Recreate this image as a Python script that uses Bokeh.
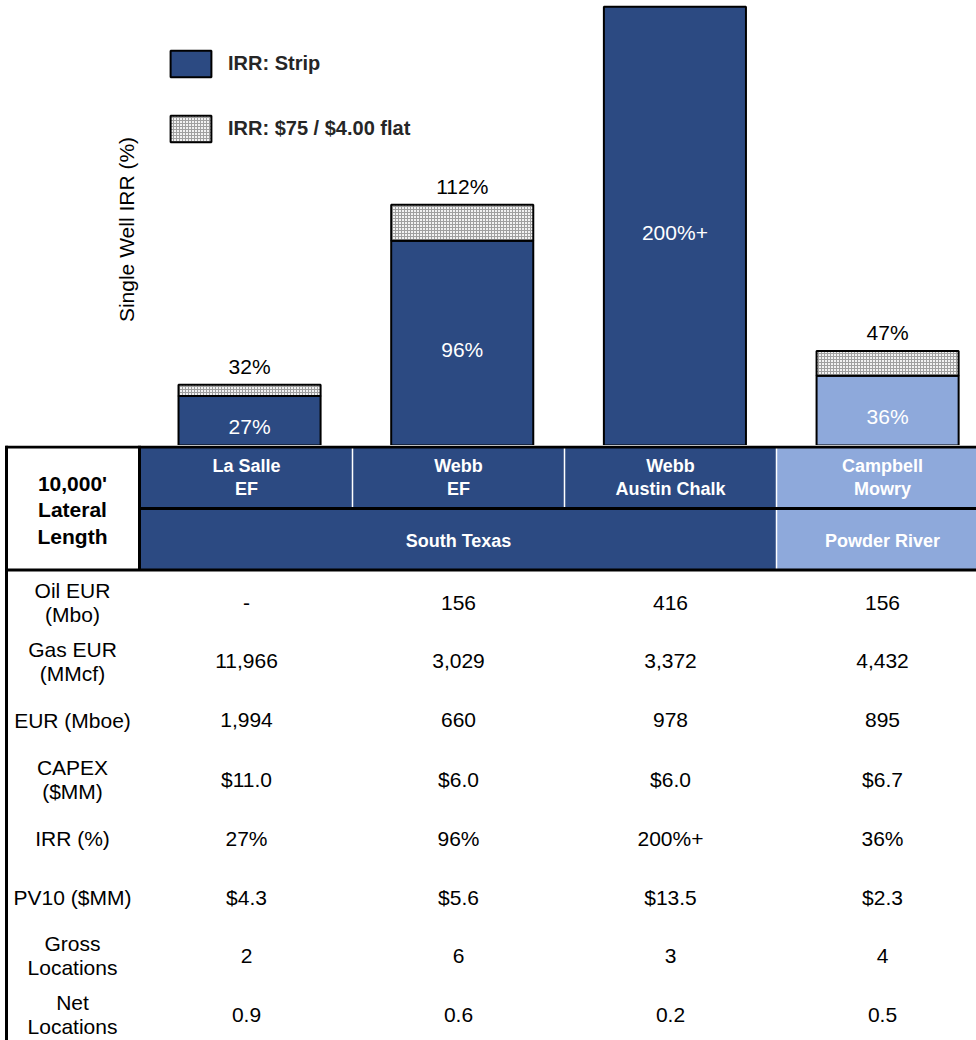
import math
from bokeh.plotting import figure
from bokeh.models import Range1d, Label, Legend, LegendItem, ColumnDataSource
from bokeh.layouts import column
from bokeh.embed import file_html
from bokeh.resources import INLINE
from bokeh.core.properties import value

# ---------------- data ----------------
plays = ["La Salle EF", "Webb EF", "Webb Austin Chalk", "Campbell Mowry"]
irr_strip = [27, 96, 200, 36]
irr_flat = [32, 112, None, 47]
strip_labels = ["27%", "96%", "200%+", "36%"]
flat_labels = ["32%", "112%", "", "47%"]
header_line1 = ["La Salle", "Webb", "Webb", "Campbell"]
header_line2 = ["EF", "EF", "Austin Chalk", "Mowry"]
basins = ["South Texas", "Powder River"]
basin_span = [3, 1]
row_labels = ["Oil EUR\n(Mbo)", "Gas EUR\n(MMcf)", "EUR (Mboe)", "CAPEX\n($MM)",
              "IRR (%)", "PV10 ($MM)", "Gross\nLocations", "Net\nLocations"]
oil_eur = ["-", "156", "416", "156"]
gas_eur = ["11,966", "3,029", "3,372", "4,432"]
eur_mboe = ["1,994", "660", "978", "895"]
capex = ["$11.0", "$6.0", "$6.0", "$6.7"]
irr_row = ["27%", "96%", "200%+", "36%"]
pv10 = ["$4.3", "$5.6", "$13.5", "$2.3"]
gross_loc = ["2", "6", "3", "4"]
net_loc = ["0.9", "0.6", "0.2", "0.5"]
table_rows = [oil_eur, gas_eur, eur_mboe, capex, irr_row, pv10, gross_loc, net_loc]

# ---------------- style ----------------
DARK = "#2C4A82"
LIGHT = "#8EA9DB"
FONT = "Liberation Sans"
basin_colors = [DARK, LIGHT]
play_colors = []
for b, n in enumerate(basin_span):
    play_colors += [basin_colors[b]] * n

# ---------------- bar chart ----------------
Y0 = 5
p1 = figure(width=976, height=445, x_range=Range1d(-1.171, 3.418), y_range=Range1d(Y0, 202.8),
            output_backend="svg", toolbar_location=None, x_axis_type=None, y_axis_type=None,
            min_border=0, outline_line_color=None)
p1.grid.visible = False

idx = list(range(len(plays)))
src_strip = ColumnDataSource(dict(x=idx, top=irr_strip, color=play_colors, lab=strip_labels,
                                  ly=[(Y0 + v) / 2 for v in irr_strip]))
r_strip = p1.vbar(x="x", top="top", bottom=0, width=0.668, fill_color="color",
                  line_color="black", line_width=2, source=src_strip)

fi = [i for i, v in enumerate(irr_flat) if v is not None]
src_flat = ColumnDataSource(dict(x=fi, bottom=[irr_strip[i] for i in fi], top=[irr_flat[i] for i in fi],
                                 lab=[flat_labels[i] for i in fi]))
r_flat = p1.vbar(x="x", top="top", bottom="bottom", width=0.668, fill_color="#f2f2f2",
                 hatch_pattern="cross", hatch_color="#a0a0a0", hatch_scale=3, hatch_weight=1,
                 line_color="black", line_width=2, source=src_flat)

p1.text(x="x", y="top", text="lab", source=src_flat, text_align="center", text_baseline="bottom",
        y_offset=-7, text_font=value(FONT), text_font_size="21px", text_color="black")
p1.text(x="x", y="ly", text="lab", source=src_strip, text_align="center", text_baseline="middle",
        y_offset=6, text_font=value(FONT), text_font_size="21px", text_color="white")

legend = Legend(items=[LegendItem(label="IRR: Strip", renderers=[r_strip], index=0),
                       LegendItem(label="IRR: $75 / $4.00 flat", renderers=[r_flat], index=0)],
                location=(165, 300), orientation="vertical", padding=0, margin=0, spacing=32,
                glyph_width=51, glyph_height=33, label_height=33, label_standoff=12,
                border_line_color=None, background_fill_alpha=0,
                label_text_font=FONT, label_text_font_size="20px", label_text_font_style="bold",
                label_text_color="#262626")
p1.add_layout(legend)

p1.add_layout(Label(x=126, y=216, x_units="screen", y_units="screen", text="Single Well IRR (%)",
                    angle=math.pi / 2, text_align="center", text_baseline="middle",
                    text_font=FONT, text_font_size="21px", text_color="black"))

# ---------------- table ----------------
p2 = figure(width=976, height=595, x_range=Range1d(0, 976), y_range=Range1d(595, 0),
            output_backend="svg", toolbar_location=None, x_axis_type=None, y_axis_type=None,
            min_border=0, outline_line_color=None)
p2.grid.visible = False

COL_L, COL_W = 140, 212
col_left = [COL_L + COL_W * i for i in idx]
col_ctr = [l + COL_W / 2 for l in col_left]

# header row 1 (plays)
p2.quad(left=col_left, right=[l + COL_W for l in col_left], top=1, bottom=63,
        fill_color=play_colors, line_color=None)
# header row 2 (basins)
b_left, b_right, b_ctr = [], [], []
start = 0
for n in basin_span:
    l = col_left[start]
    r = col_left[start + n - 1] + COL_W
    b_left.append(l); b_right.append(r); b_ctr.append((l + r) / 2)
    start += n
p2.quad(left=b_left, right=b_right, top=63, bottom=124, fill_color=basin_colors, line_color=None)

# white separators
p2.segment(x0=col_left[1:], y0=1, x1=col_left[1:], y1=63, line_color="white", line_width=1.5)
p2.segment(x0=b_left[1:], y0=63, x1=b_left[1:], y1=124, line_color="white", line_width=1.5)

# black rules
p2.segment(x0=[5, 140, 5, 6, 139], y0=[1.5, 63, 124.5, 0, 0], x1=[976, 976, 976, 6, 139],
           y1=[1.5, 63, 124.5, 595, 125], line_color="black", line_width=3)

hdr_txt = [a + "\n" + b for a, b in zip(header_line1, header_line2)]
p2.text(x=col_ctr, y=32, text=hdr_txt, text_align="center", text_baseline="middle",
        text_font=value(FONT), text_font_size="18px", text_font_style="bold",
        text_color="white", text_line_height=1.12)
p2.text(x=b_ctr, y=95, text=basins, text_align="center", text_baseline="middle",
        text_font=value(FONT), text_font_size="18px", text_font_style="bold",
        text_color="white")
p2.text(x=[72], y=[64.5], text=["10,000'\nLateral\nLength"], text_align="center",
        text_baseline="middle", text_font=value(FONT), text_font_size="21px",
        text_font_style="bold", text_color="black", text_line_height=1.15)

ROW0, ROW_H = 157, 58.9
row_y = [ROW0 + ROW_H * k for k in range(len(row_labels))]
p2.text(x=72, y=row_y, text=row_labels, text_align="center", text_baseline="middle",
        text_font=value(FONT), text_font_size="21px", text_color="black", text_line_height=1.05)
vx, vy, vt = [], [], []
for k, row in enumerate(table_rows):
    for i, v in enumerate(row):
        vx.append(col_ctr[i]); vy.append(row_y[k]); vt.append(v)
p2.text(x=vx, y=vy, text=vt, text_align="center", text_baseline="middle",
        text_font=value(FONT), text_font_size="21px", text_color="black")

layout = column(p1, p2, spacing=0)
open("out.html", "w").write(file_html(layout, INLINE))
